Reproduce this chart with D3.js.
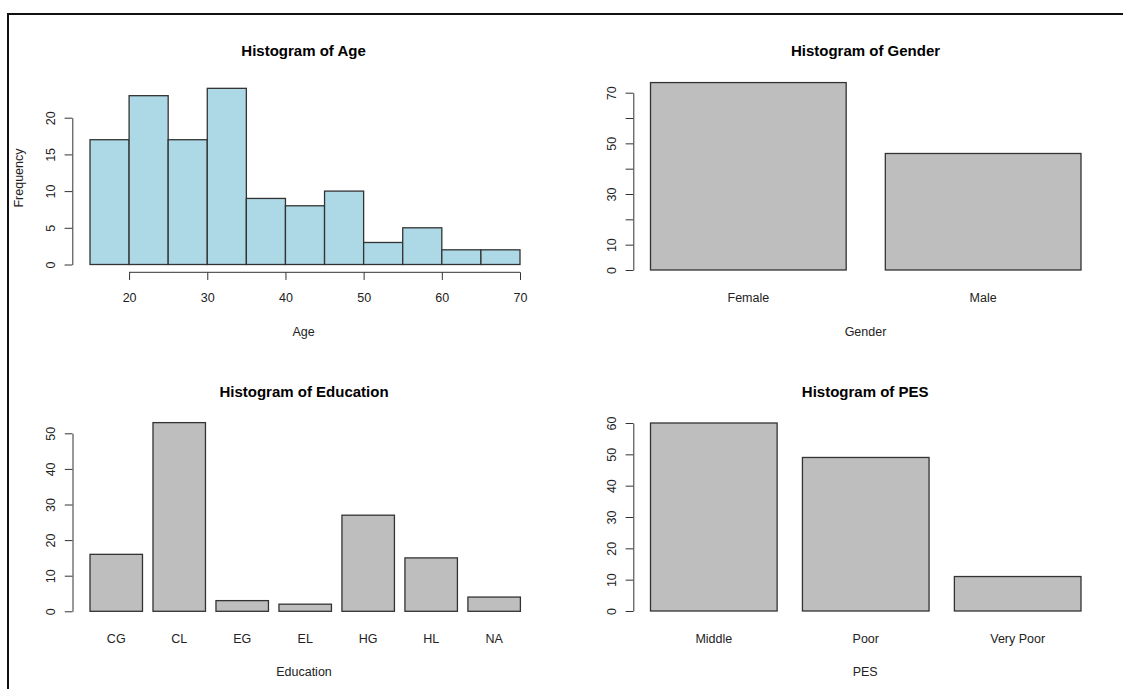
<!DOCTYPE html>
<html>
<head>
<meta charset="utf-8">
<script src="https://cdn.jsdelivr.net/npm/d3@7"></script>
<style>
    body { margin: 0; background: #fff; }
    svg { display: block; font-family: "Liberation Sans", Arial, sans-serif; }
</style>
</head>
<body>
<div class="chart"></div>
<script>
const WIDTH = 1123;
const HEIGHT = 689;

// values
const ageBreaks = [15, 20, 25, 30, 35, 40, 45, 50, 55, 60, 65, 70];
const ageCounts = [17, 23, 17, 24, 9, 8, 10, 3, 5, 2, 2];
const ageXTicks = [20, 30, 40, 50, 60, 70];
const ageYTicks = [0, 5, 10, 15, 20];

const genderCategories = ['Female', 'Male'];
const genderCounts = [74, 46];
const genderYTicks = [0, 10, 20, 30, 40, 50, 60, 70];
const genderYLabels = [0, 10, 30, 50, 70];

const educationCategories = ['CG', 'CL', 'EG', 'EL', 'HG', 'HL', 'NA'];
const educationCounts = [16, 53, 3, 2, 27, 15, 4];
const educationYTicks = [0, 10, 20, 30, 40, 50];

const pesCategories = ['Middle', 'Poor', 'Very Poor'];
const pesCounts = [60, 49, 11];
const pesYTicks = [0, 10, 20, 30, 40, 50, 60];

const TEXT = '#222';
const LINE = '#333';
const TICK = 7.7;

var svg = d3.select('.chart').append('svg')
    .attr('width', WIDTH)
    .attr('height', HEIGHT);

// frame of the screenshot
svg.append('path')
    .attr('d', 'M8,' + HEIGHT + ' V14 H' + WIDTH)
    .attr('fill', 'none')
    .attr('stroke', '#111')
    .attr('stroke-width', 2);

function addTitles(p, title, xlab) {
    svg.append('text')
        .attr('x', p.cx).attr('y', p.titleY)
        .attr('text-anchor', 'middle')
        .attr('font-size', 15).attr('font-weight', 'bold')
        .attr('fill', '#000')
        .text(title);
    svg.append('text')
        .attr('x', p.cx).attr('y', p.xLabelY)
        .attr('text-anchor', 'middle')
        .attr('font-size', 12.5)
        .attr('fill', TEXT)
        .text(xlab);
}

function addYAxis(p, yScale, ticks, labels) {
    var g = svg.append('g')
        .attr('transform', 'translate(' + p.axisX + ',0)');
    g.call(d3.axisLeft(yScale)
        .tickValues(ticks)
        .tickSize(TICK)
        .tickSizeOuter(0)
        .tickFormat(function (d) { return labels.indexOf(d) >= 0 ? d : ''; }));
    g.selectAll('path, line').attr('stroke', LINE);
    g.selectAll('text')
        .attr('x', null)
        .attr('transform', 'translate(-22,0) rotate(-90)')
        .attr('text-anchor', 'middle')
        .attr('dy', '0.35em')
        .attr('font-size', 12.5)
        .attr('font-family', '"Liberation Sans", Arial, sans-serif')
        .attr('fill', TEXT);
}

function barChart(p, cats, counts, ticks, labels, title, xlab) {
    var x = d3.scaleBand().domain(cats)
        .range([p.barL, p.barR])
        .paddingInner(1 / 6)
        .paddingOuter(0);
    var y = d3.scaleLinear().domain([0, d3.max(ticks)]).range([p.y0, p.yTop]);

    svg.append('g').selectAll('rect')
        .data(cats)
        .enter().append('rect')
        .attr('x', function (d) { return x(d); })
        .attr('width', x.bandwidth())
        .attr('y', function (d, i) { return y(counts[i]); })
        .attr('height', function (d, i) { return y(0) - y(counts[i]); })
        .attr('fill', '#bebebe')
        .attr('stroke', LINE)
        .attr('stroke-width', 1.3);

    addYAxis(p, y, ticks, labels);

    var xg = svg.append('g')
        .attr('transform', 'translate(0,' + p.tickLabelY + ')');
    xg.call(d3.axisBottom(x).tickSize(0));
    xg.select('.domain').remove();
    xg.selectAll('text')
        .attr('y', 0).attr('dy', 0)
        .attr('font-size', 12.5)
        .attr('font-family', '"Liberation Sans", Arial, sans-serif')
        .attr('fill', TEXT);

    addTitles(p, title, xlab);
}

// Histogram of Age
var agePanel = {axisX: 72.3, barL: 90, barR: 520, y0: 264.5, yTop: 117.7, xAxisY: 272.3,
    cx: 303.6, titleY: 56, tickLabelY: 302, xLabelY: 335.5};
var ageX = d3.scaleLinear().domain([ageBreaks[0], ageBreaks[ageBreaks.length - 1]])
    .range([agePanel.barL, agePanel.barR]);
var ageY = d3.scaleLinear().domain([0, d3.max(ageYTicks)]).range([agePanel.y0, agePanel.yTop]);

svg.append('g').selectAll('rect')
    .data(ageCounts)
    .enter().append('rect')
    .attr('x', function (d, i) { return ageX(ageBreaks[i]); })
    .attr('width', function (d, i) { return ageX(ageBreaks[i + 1]) - ageX(ageBreaks[i]); })
    .attr('y', function (d) { return ageY(d); })
    .attr('height', function (d) { return ageY(0) - ageY(d); })
    .attr('fill', '#add8e6')
    .attr('stroke', LINE)
    .attr('stroke-width', 1.3);

addYAxis(agePanel, ageY, ageYTicks, ageYTicks);

var ageXAxisG = svg.append('g')
    .attr('transform', 'translate(0,' + agePanel.xAxisY + ')');
ageXAxisG.call(d3.axisBottom(ageX).tickValues(ageXTicks).tickSize(TICK).tickSizeOuter(0));
ageXAxisG.select('.domain')
    .attr('d', 'M' + ageX(ageXTicks[0]) + ',0H' + ageX(ageXTicks[ageXTicks.length - 1]));
ageXAxisG.selectAll('path, line').attr('stroke', LINE);
ageXAxisG.selectAll('text')
    .attr('y', agePanel.tickLabelY - agePanel.xAxisY).attr('dy', 0)
    .attr('font-size', 12.5)
    .attr('font-family', '"Liberation Sans", Arial, sans-serif')
    .attr('fill', TEXT);

addTitles(agePanel, 'Histogram of Age', 'Age');

svg.append('text')
    .attr('transform', 'translate(23,178) rotate(-90)')
    .attr('text-anchor', 'middle')
    .attr('font-size', 12.5)
    .attr('fill', TEXT)
    .text('Frequency');

// Histogram of Gender
barChart({axisX: 633.3, barL: 650.5, barR: 1081, y0: 270, yTop: 92.7,
    cx: 865.5, titleY: 56, tickLabelY: 302, xLabelY: 335.5},
    genderCategories, genderCounts, genderYTicks, genderYLabels, 'Histogram of Gender', 'Gender');

// Histogram of Education
barChart({axisX: 72.5, barL: 90, barR: 520.4, y0: 611.3, yTop: 433.3,
    cx: 304, titleY: 397.3, tickLabelY: 643, xLabelY: 676},
    educationCategories, educationCounts, educationYTicks, educationYTicks, 'Histogram of Education', 'Education');

// Histogram of PES
barChart({axisX: 633.3, barL: 650.5, barR: 1081, y0: 611, yTop: 423,
    cx: 865.2, titleY: 397.3, tickLabelY: 643, xLabelY: 676},
    pesCategories, pesCounts, pesYTicks, pesYTicks, 'Histogram of PES', 'PES');
</script>
</body>
</html>
